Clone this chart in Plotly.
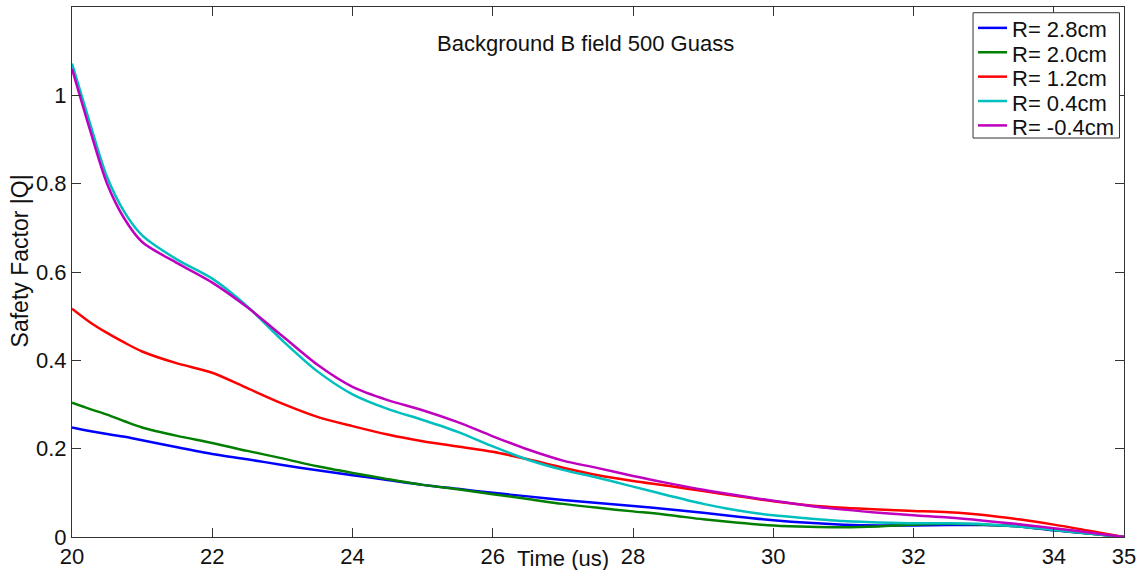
import plotly.graph_objects as go

# Time samples (us)
time_us = [20, 20.25, 20.5, 20.75, 21, 21.5, 22, 22.5, 23, 23.5, 24, 24.5, 25, 25.5,
           26, 26.5, 27, 27.5, 28, 28.5, 29, 29.5, 30, 30.5, 31, 31.5, 32, 32.5,
           33, 33.5, 34, 34.5, 35]

# Safety factor |Q| at each radius
q_r_2p8 = [0.248, 0.24, 0.233, 0.227, 0.219, 0.203, 0.188, 0.176, 0.163, 0.151, 0.14,
           0.129, 0.118, 0.109, 0.1, 0.092, 0.084, 0.077, 0.07, 0.063, 0.055, 0.046,
           0.038, 0.032, 0.028, 0.026, 0.026, 0.027, 0.027, 0.024, 0.015, 0.008, 0.0]
q_r_2p0 = [0.304, 0.29, 0.277, 0.262, 0.248, 0.229, 0.213, 0.195, 0.178, 0.16, 0.145,
           0.131, 0.118, 0.108, 0.097, 0.086, 0.075, 0.066, 0.058, 0.05, 0.04, 0.032,
           0.026, 0.023, 0.022, 0.024, 0.028, 0.03, 0.028, 0.024, 0.016, 0.008, 0.0]
q_r_1p2 = [0.517, 0.487, 0.462, 0.44, 0.42, 0.393, 0.372, 0.337, 0.302, 0.272, 0.251,
           0.232, 0.217, 0.205, 0.193, 0.176, 0.157, 0.14, 0.127, 0.116, 0.104, 0.092,
           0.081, 0.072, 0.066, 0.062, 0.059, 0.056, 0.05, 0.04, 0.028, 0.014, 0.0]
q_r_0p4 = [1.072, 0.94, 0.815, 0.735, 0.683, 0.628, 0.585, 0.522, 0.445, 0.375, 0.323,
           0.29, 0.265, 0.238, 0.205, 0.175, 0.152, 0.134, 0.114, 0.094, 0.075, 0.06,
           0.049, 0.042, 0.036, 0.033, 0.031, 0.031, 0.029, 0.024, 0.016, 0.008, 0.0]
q_r_m0p4 = [1.06, 0.925, 0.80, 0.72, 0.668, 0.62, 0.576, 0.52, 0.455, 0.39, 0.34,
            0.31, 0.287, 0.26, 0.228, 0.198, 0.173, 0.156, 0.138, 0.122, 0.107, 0.094,
            0.082, 0.071, 0.062, 0.055, 0.049, 0.044, 0.037, 0.029, 0.02, 0.01, 0.0]

series_names = ["R= 2.8cm", "R= 2.0cm", "R= 1.2cm", "R= 0.4cm", "R= -0.4cm"]
series_values = [q_r_2p8, q_r_2p0, q_r_1p2, q_r_0p4, q_r_m0p4]
series_colors = ["#0000ff", "#007f00", "#ff0000", "#00bfbf", "#bf00bf"]

x_ticks = [20, 22, 24, 26, 28, 30, 32, 34, 35]
y_ticks = [0, 0.2, 0.4, 0.6, 0.8, 1]

FONT = "Arial, Liberation Sans, Helvetica, sans-serif"
TXT = "#111111"
FS = 22

fig = go.Figure()
for name, vals, col in zip(series_names, series_values, series_colors):
    fig.add_trace(go.Scatter(
        x=time_us, y=vals, name=name, mode="lines",
        line=dict(color=col, width=2.5, shape="spline", smoothing=0.8),
        showlegend=False,
    ))

axis_common = dict(
    showline=True, linecolor="#333333", linewidth=1, mirror="ticks",
    ticks="inside", ticklen=9, tickcolor="#333333", tickwidth=1,
    showgrid=False, zeroline=False, automargin=False,
    tickfont=dict(family=FONT, size=FS, color=TXT),
)

fig.update_layout(
    width=1141, height=570,
    margin=dict(l=72, r=17, t=7, b=33),
    paper_bgcolor="white", plot_bgcolor="white",
    font=dict(family=FONT, size=FS, color=TXT),
    xaxis=dict(range=[20, 35], tickvals=x_ticks,
               ticktext=[str(v) for v in x_ticks], **axis_common),
    yaxis=dict(range=[0, 1.2], tickvals=y_ticks,
               ticktext=["0", "0.2", "0.4", "0.6", "0.8", "1"], **axis_common),
    showlegend=False,
)

# Compact boxed legend in the upper-right corner (paper coordinates)
leg_x0, leg_x1 = 0.8565, 0.9957
leg_y0, leg_y1 = 0.7528, 0.9892
row_top, row_step = 0.9606, 0.0460
sample_x0, sample_x1, text_x = 0.8612, 0.8888, 0.8916
fig.add_shape(type="rect", xref="paper", yref="paper",
              x0=leg_x0, x1=leg_x1, y0=leg_y0, y1=leg_y1,
              line=dict(color="#333333", width=1), fillcolor="white", layer="above")
for i, (name, col) in enumerate(zip(series_names, series_colors)):
    ry = row_top - i * row_step
    fig.add_shape(type="line", xref="paper", yref="paper",
                  x0=sample_x0, x1=sample_x1, y0=ry, y1=ry,
                  line=dict(color=col, width=2.5), layer="above")
    fig.add_annotation(text=name, xref="paper", yref="paper",
                       x=text_x, y=ry, xanchor="left", yanchor="middle",
                       yshift=-2, showarrow=False,
                       font=dict(family=FONT, size=FS, color=TXT))

fig.add_annotation(
    text="Background B field 500 Guass", xref="paper", yref="paper",
    x=0.488, y=0.932, xanchor="center", yanchor="middle", showarrow=False,
    font=dict(family=FONT, size=FS, color=TXT),
)
fig.add_annotation(
    text="Time (us)", xref="paper", yref="paper",
    x=0.467, y=0, xanchor="center", yanchor="middle", yshift=-21, showarrow=False,
    font=dict(family=FONT, size=FS, color=TXT),
)
fig.add_annotation(
    text="Safety Factor |Q|", xref="paper", yref="paper",
    x=0, y=0.52, xanchor="center", yanchor="middle", xshift=-52,
    textangle=-90, showarrow=False,
    font=dict(family=FONT, size=23, color=TXT),
)

fig.write_html("out.html")
